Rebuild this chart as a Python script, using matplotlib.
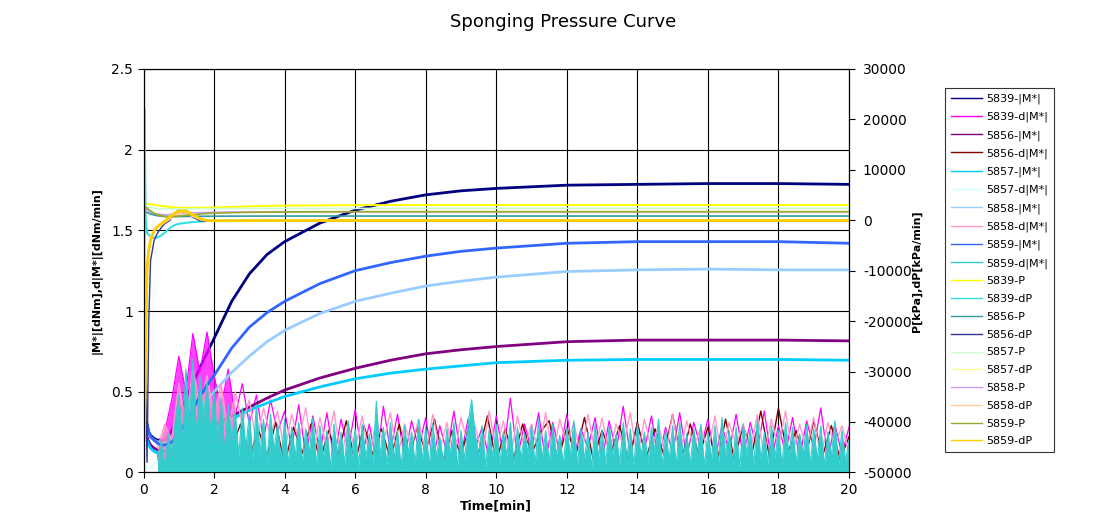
import numpy as np
import matplotlib
matplotlib.use("Agg")
import matplotlib.pyplot as plt
from matplotlib.lines import Line2D

plt.rcParams['font.family'] = ['DejaVu Sans']

# ---------------- data ----------------
title = "Sponging Pressure Curve"
x_label = "Time[min]"
left_label = "|M*|[dNm],d|M*|[dNm/min]"
right_label = "P[kPa],dP[kPa/min]"
x_ticks = [0, 2, 4, 6, 8, 10, 12, 14, 16, 18, 20]
left_ticks = [0, 0.5, 1, 1.5, 2, 2.5]
left_tick_labels = ["0", "0.5", "1", "1.5", "2", "2.5"]
right_ticks = [-50000, -40000, -30000, -20000, -10000, 0, 10000, 20000, 30000]

# time grid for smooth curves [min]
t_s = [0, 0.03, 0.06, 0.1, 0.15, 0.2, 0.3, 0.4, 0.5, 0.6, 0.75, 0.9, 1.0, 1.2, 1.4, 1.6,
       1.8, 2.0, 2.5, 3, 3.5, 4, 5, 6, 7, 8, 9, 10, 12, 14, 16, 18, 20]

# |M*| curves [dNm]
m5839 = [0.55, 0.45, 0.36, 0.30, 0.25, 0.23, 0.21, 0.20, 0.20, 0.20, 0.24, 0.30, 0.35, 0.45, 0.55, 0.65,
         0.74, 0.83, 1.06, 1.23, 1.35, 1.43, 1.545, 1.625, 1.68, 1.72, 1.745, 1.76, 1.78, 1.785, 1.79, 1.79, 1.785]
m5856 = [0.40, 0.33, 0.27, 0.22, 0.19, 0.17, 0.15, 0.14, 0.13, 0.13, 0.13, 0.14, 0.15, 0.17, 0.20, 0.23,
         0.26, 0.29, 0.35, 0.405, 0.46, 0.51, 0.585, 0.645, 0.695, 0.735, 0.76, 0.78, 0.81, 0.82, 0.82, 0.82, 0.815]
m5857 = [0.35, 0.30, 0.25, 0.20, 0.17, 0.15, 0.13, 0.12, 0.12, 0.12, 0.12, 0.13, 0.14, 0.16, 0.18, 0.21,
         0.23, 0.26, 0.33, 0.385, 0.43, 0.47, 0.53, 0.58, 0.615, 0.64, 0.66, 0.68, 0.695, 0.70, 0.70, 0.70, 0.695]
m5858 = [0.45, 0.38, 0.32, 0.27, 0.24, 0.22, 0.20, 0.19, 0.18, 0.18, 0.19, 0.21, 0.23, 0.28, 0.34, 0.40,
         0.45, 0.50, 0.62, 0.72, 0.81, 0.88, 0.985, 1.06, 1.11, 1.155, 1.185, 1.21, 1.245, 1.255, 1.26, 1.255, 1.255]
m5859 = [0.50, 0.42, 0.35, 0.29, 0.25, 0.22, 0.20, 0.18, 0.17, 0.17, 0.18, 0.21, 0.24, 0.31, 0.39, 0.47,
         0.54, 0.60, 0.77, 0.90, 0.99, 1.06, 1.17, 1.25, 1.30, 1.34, 1.37, 1.39, 1.42, 1.43, 1.43, 1.43, 1.42]

# P and dP curves [kPa], [kPa/min]
p5839 = [-34000, 2500, 3300, 3250, 3200, 3150, 3050, 2950, 2850, 2750, 2650, 2550, 2500, 2480, 2480, 2500,
         2520, 2550, 2650, 2750, 2850, 2900, 2950, 3000, 3020, 3020, 3020, 3020, 3020, 3020, 3020, 3020, 3020]
dp5839 = [5000, 22000, 500, -2500, -2900, -3200, -3500, -3400, -3000, -2500, -1500, -900, -700, -500, -350, -250,
          -150, -100, -60, -40, -30, -20, -10, 0, 0, 0, 0, 0, 0, 0, 0, 0, 0]
p5856 = [-20000, 800, 1600, 1550, 1400, 1250, 1050, 900, 800, 750, 720, 720, 730, 750, 770, 790,
         800, 810, 820, 830, 835, 840, 840, 840, 840, 840, 840, 840, 840, 840, 840, 840, 840]
dp5856 = [0, -10000, -30000, -48000, -20000, -8000, -4000, -2500, -1500, -700, 0, 1500, 2100, 1500, 600, -100,
          -200, -200, -150, -150, -150, -150, -150, -150, -150, -150, -150, -150, -150, -150, -150, -150, -150]
p5857 = [-30000, 1500, 2800, 2700, 2600, 2500, 2400, 2350, 2300, 2280, 2260, 2250, 2250, 2260, 2280, 2300,
         2310, 2320, 2340, 2350, 2360, 2360, 2360, 2360, 2360, 2360, 2360, 2360, 2360, 2360, 2360, 2360, 2360]
dp5857 = [5000, -35000, -18000, -8000, -5000, -3500, -2200, -1500, -900, -400, 300, 1000, 1300, 1300, 800, 200,
          -50, -100, -80, -60, -50, -40, -30, -20, -20, -20, -20, -20, -20, -20, -20, -20, -20]
p5858 = [-25000, 1200, 2200, 2000, 1800, 1600, 1400, 1250, 1150, 1100, 1150, 1250, 1300, 1400, 1480, 1540,
         1580, 1600, 1640, 1660, 1670, 1680, 1690, 1690, 1690, 1690, 1690, 1690, 1690, 1690, 1690, 1690, 1690]
dp5858 = [6000, -38000, -20000, -9000, -5500, -3800, -2100, -1300, -800, -300, 400, 1100, 1450, 1600, 1000, 300,
          -50, -120, -100, -70, -50, -40, -30, -20, -20, -20, -20, -20, -20, -20, -20, -20, -20]
p5859 = [-25000, 1500, 2670, 2400, 2100, 1800, 1400, 1100, 900, 780, 720, 780, 850, 980, 1120, 1250,
         1350, 1420, 1520, 1580, 1620, 1650, 1680, 1690, 1690, 1690, 1690, 1690, 1690, 1690, 1690, 1690, 1690]
dp5859 = [7000, -43000, -25000, -10000, -6000, -4000, -2000, -1200, -700, -200, 700, 1500, 1800, 1900, 1100, 300,
          -50, -100, -100, -80, -60, -50, -50, -50, -50, -50, -50, -50, -50, -50, -50, -50, -50]

# noisy d|M*| curves [dNm/min]
t_teal = np.round(np.arange(0.4, 20.05, 0.1), 2)
d5859 = [0.08, 0.2, 0.04, 0.24, 0.1, 0.32,
         0.48, 0.18, 0.64, 0.3, 0.7, 0.22, 0.6, 0.32, 0.56, 0.25,
         0.5, 0.18, 0.46, 0.12, 0.42, 0.2, 0.38, 0.1, 0.4, 0.15,
         0.36, 0.08, 0.42, 0.12, 0.33, 0.06, 0.36, 0.14, 0.3, 0.07,
         0.33, 0.05, 0.28, 0.1, 0.31, 0.06, 0.27, 0.12, 0.34, 0.04,
         0.29, 0.09, 0.26, 0.03, 0.3, 0.11, 0.25, 0.05, 0.32, 0.1,
         0.27, 0.04, 0.3, 0.09, 0.24, 0.06, 0.44, 0.1, 0.28, 0.04,
         0.31, 0.08, 0.26, 0.03, 0.29, 0.12, 0.25, 0.05, 0.33, 0.07,
         0.28, 0.04, 0.3, 0.1, 0.22, 0.06, 0.27, 0.11, 0.31, 0.03,
         0.26, 0.08, 0.3, 0.45, 0.24, 0.11, 0.29, 0.03, 0.27, 0.09,
         0.3, 0.05, 0.25, 0.1, 0.31, 0.04, 0.28, 0.08, 0.24, 0.12,
         0.29, 0.04, 0.33, 0.08, 0.26, 0.06, 0.3, 0.1, 0.23, 0.05,
         0.28, 0.1, 0.32, 0.04, 0.27, 0.08, 0.25, 0.03, 0.3, 0.09,
         0.26, 0.05, 0.29, 0.11, 0.24, 0.05, 0.31, 0.08, 0.27, 0.04,
         0.3, 0.1, 0.25, 0.06, 0.28, 0.12, 0.33, 0.04, 0.26, 0.08,
         0.29, 0.04, 0.31, 0.09, 0.24, 0.05, 0.27, 0.1, 0.3, 0.04,
         0.25, 0.08, 0.29, 0.05, 0.34, 0.1, 0.26, 0.06, 0.28, 0.03,
         0.3, 0.11, 0.27, 0.04, 0.33, 0.08, 0.25, 0.05, 0.29, 0.09,
         0.26, 0.04, 0.31, 0.1, 0.28, 0.06, 0.24, 0.11, 0.3, 0.05,
         0.27, 0.08, 0.29, 0.04, 0.25, 0.1, 0.32, 0.05, 0.26, 0.07,
         0.2]

t_mag = np.round(np.arange(0.4, 20.05, 0.2), 2)
d5839 = [0.1, 0.25, 0.45,
         0.72, 0.5, 0.86, 0.62, 0.87,
         0.6, 0.4, 0.64, 0.35, 0.55,
         0.3, 0.48, 0.2, 0.45, 0.25,
         0.38, 0.15, 0.42, 0.1, 0.35,
         0.12, 0.37, 0.08, 0.33, 0.14,
         0.39, 0.1, 0.3, 0.06, 0.41,
         0.13, 0.36, 0.09, 0.32, 0.15,
         0.34, 0.07, 0.29, 0.12, 0.38,
         0.1, 0.33, 0.15, 0.28, 0.08,
         0.35, 0.11, 0.46, 0.09, 0.3,
         0.14, 0.37, 0.07, 0.31, 0.12,
         0.36, 0.1, 0.27, 0.15, 0.34,
         0.08, 0.32, 0.13, 0.41, 0.1,
         0.3, 0.14, 0.35, 0.07, 0.28,
         0.12, 0.37, 0.09, 0.31, 0.15,
         0.33, 0.08, 0.29, 0.13, 0.36,
         0.1, 0.31, 0.14, 0.38, 0.07,
         0.29, 0.12, 0.34, 0.09, 0.32,
         0.15, 0.4, 0.08, 0.3, 0.11,
         0.28]
d5858 = [0.15, 0.3, 0.2,
         0.55, 0.3, 0.65, 0.4, 0.6,
         0.35, 0.55, 0.25, 0.5, 0.3,
         0.45, 0.18, 0.4, 0.22, 0.38,
         0.12, 0.36, 0.2, 0.4, 0.1,
         0.34, 0.15, 0.38, 0.08, 0.3,
         0.14, 0.35, 0.1, 0.32, 0.18,
         0.37, 0.09, 0.3, 0.16, 0.33,
         0.11, 0.36, 0.14, 0.31, 0.08,
         0.34, 0.17, 0.29, 0.1, 0.38,
         0.13, 0.32, 0.08, 0.35, 0.15,
         0.3, 0.12, 0.37, 0.1, 0.33,
         0.16, 0.31, 0.09, 0.36, 0.13,
         0.34, 0.11, 0.3, 0.17, 0.37,
         0.09, 0.33, 0.14, 0.29, 0.12,
         0.36, 0.1, 0.32, 0.15, 0.28,
         0.13, 0.35, 0.08, 0.31, 0.17,
         0.3, 0.12, 0.36, 0.1, 0.33,
         0.15, 0.38, 0.11, 0.3, 0.14,
         0.34, 0.09, 0.31, 0.16, 0.29,
         0.12]
t_red = np.round(np.arange(0.5, 20.01, 0.25), 2)
d5856 = [0.05, 0.12, 0.08, 0.2, 0.25, 0.1, 0.18, 0.06, 0.15, 0.3, 0.08, 0.27,
         0.1, 0.31, 0.05, 0.28, 0.12, 0.3, 0.07, 0.26, 0.09, 0.32, 0.06, 0.29,
         0.11, 0.27, 0.08, 0.3, 0.05, 0.28, 0.13, 0.33, 0.07, 0.26, 0.1, 0.31,
         0.12, 0.35, 0.06, 0.27, 0.09, 0.3, 0.11, 0.25, 0.32, 0.07, 0.28, 0.1,
         0.34, 0.08, 0.26, 0.12, 0.29, 0.06, 0.31, 0.09, 0.27, 0.11, 0.36, 0.07,
         0.3, 0.1, 0.28, 0.05, 0.33, 0.08, 0.29, 0.12, 0.38, 0.09, 0.4, 0.11,
         0.26, 0.07, 0.32, 0.1, 0.29, 0.08, 0.22]
t_lc = [0, 0.02, 0.04, 0.08, 0.15, 0.3, 0.5, 0.8, 1.2]
d5857 = [0.0, 0.35, 0.06, 0.03, 0.02, 0.05, 0.08, 0.1, 0.06]

# ---------------- figure ----------------
fig = plt.figure(figsize=(11.05, 5.27), dpi=100)
ax = fig.add_axes([143.5 / 1105, 1 - 472.4 / 527, 705.5 / 1105, 403.4 / 527])
ax2 = ax.twinx()

# (name, t, values, colour, linewidth, fill-until-time or None, fill alpha)
series_left = [
    ("5839-|M*|", t_s, m5839, "#000080", 2.0, None, 1.0),
    ("5839-d|M*|", t_mag, d5839, "#FF00FF", 0.9, 2.6, 0.75),
    ("5856-|M*|", t_s, m5856, "#800080", 2.0, None, 1.0),
    ("5856-d|M*|", t_red, d5856, "#800000", 1.0, None, 1.0),
    ("5857-|M*|", t_s, m5857, "#00CCFF", 2.0, None, 1.0),
    ("5857-d|M*|", t_lc, d5857, "#CCFFFF", 1.0, None, 1.0),
    ("5858-|M*|", t_s, m5858, "#99CCFF", 2.0, None, 1.0),
    ("5858-d|M*|", t_mag, d5858, "#FF99CC", 1.0, 2.6, 0.75),
    ("5859-|M*|", t_s, m5859, "#3366FF", 2.0, None, 1.0),
    ("5859-d|M*|", t_teal, d5859, "#33CCCC", 0.8, 20.0, 1.0),
]
series_right = [
    ("5839-P", p5839, "#FFFF00", 1.4),
    ("5839-dP", dp5839, "#33E0E0", 1.5),
    ("5856-P", p5856, "#339999", 1.2),
    ("5856-dP", dp5856, "#333399", 1.0),
    ("5857-P", p5857, "#CCFFCC", 1.2),
    ("5857-dP", dp5857, "#FFFF99", 1.4),
    ("5858-P", p5858, "#CC99FF", 1.0),
    ("5858-dP", dp5858, "#FFCC99", 1.4),
    ("5859-P", p5859, "#99AA33", 1.3),
    ("5859-dP", dp5859, "#FFCC00", 2.0),
]

handles = []
z = 2
for name, t, v, c, lw, fill_to, fa in series_left:
    if fill_to is not None:
        tt = np.asarray(t)
        ax.fill_between(tt, 0, v, where=tt <= fill_to + 1e-9, color=c, alpha=fa, lw=0, zorder=z)
    ax.plot(t, v, color=c, lw=lw, zorder=z + 0.5)
    z += 1
    handles.append(Line2D([], [], color=c, lw=1.0, label=name))
for name, v, c, lw in series_right:
    ax2.plot(t_s, v, color=c, lw=lw)
    handles.append(Line2D([], [], color=c, lw=1.0, label=name))

ax.set_xlim(0, 20)
ax.set_ylim(0, 2.5)
ax2.set_ylim(-50000, 30000)
ax.set_xticks(x_ticks)
ax.set_xticklabels([str(x) for x in x_ticks])
ax.set_yticks(left_ticks)
ax.set_yticklabels(left_tick_labels)
ax2.set_yticks(right_ticks)
ax2.set_yticklabels([str(v) for v in right_ticks])

ax.grid(True, color="black", lw=0.8, zorder=1)
ax.set_axisbelow(True)
for a in (ax, ax2):
    for s in a.spines.values():
        s.set_color("black")
        s.set_linewidth(0.8)
    a.tick_params(direction="out", length=4, width=0.8, labelsize=10, colors="black")
ax2.tick_params(pad=6)

ax.set_xlabel(x_label, fontsize=9, fontweight="bold")
ax.xaxis.set_label_coords(0.5, -0.066)
ax.set_ylabel(left_label, fontsize=8, fontweight="bold")
ax.yaxis.set_label_coords(-0.0574, 0.5)
ax2.set_ylabel(right_label, fontsize=8, fontweight="bold")
ax2.yaxis.set_label_coords(1.0893, 0.5)

fig.text(563 / 1105, 1 - 22 / 527, title, ha="center", va="center", fontsize=13)

leg = fig.legend(handles=handles, loc="upper left", bbox_to_anchor=(945 / 1105, 1 - 88 / 527),
                 fontsize=8, frameon=True, fancybox=False, edgecolor="black",
                 handlelength=2.8, handletextpad=0.4, labelspacing=0.70, borderpad=0.5,
                 borderaxespad=0)
leg.get_frame().set_linewidth(0.8)

fig.savefig("out.png", dpi=100)
